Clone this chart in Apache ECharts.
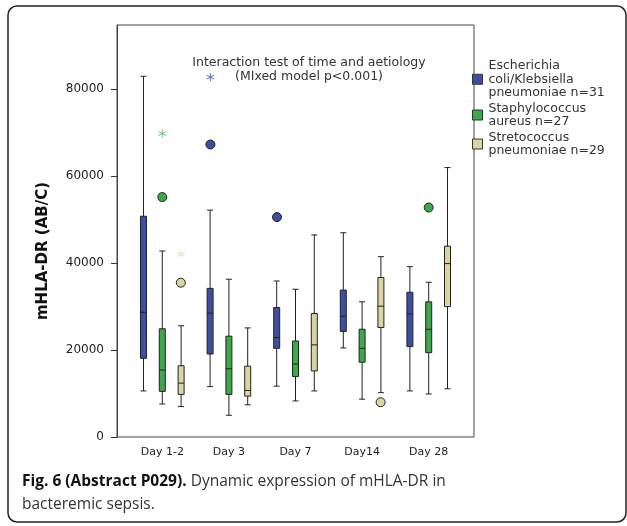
<!DOCTYPE html>
<html>
<head>
<meta charset="utf-8">
<script src="https://cdn.jsdelivr.net/npm/echarts@6/dist/echarts.min.js"></script>
<style>
html,body{margin:0;padding:0;background:#fff;}
#main{width:627px;height:526px;}
</style>
</head>
<body>
<div id="main"></div>
<script>
var days = ['Day 1-2', 'Day 3', 'Day 7', 'Day14', 'Day 28'];
var yTicks = [0, 20000, 40000, 60000, 80000];
var groupNames = [
    'Escherichia\ncoli/Klebsiella\npneumoniae n=31',
    'Staphylococcus\naureus n=27',
    'Stretococcus\npneumoniae n=29'
];
// [min, Q1, median, Q3, max] per day
var ecoliBox = [
    [10600, 18100, 28700, 50800, 83000],
    [11600, 19100, 28500, 34200, 52200],
    [11700, 20400, 22900, 29800, 35900],
    [20500, 24300, 27800, 33800, 47000],
    [10600, 20800, 28300, 33300, 39200]
];
var staphBox = [
    [7600, 10500, 15400, 24900, 42800],
    [5000, 9800, 15700, 23200, 36300],
    [8300, 13900, 16800, 22100, 34000],
    [8700, 17200, 20400, 24800, 31100],
    [9900, 19400, 24800, 31100, 35600]
];
var strepBox = [
    [7000, 9800, 12400, 16400, 25600],
    [7400, 9400, 10700, 16300, 25100],
    [10600, 15200, 21200, 28400, 46500],
    [10200, 25200, 30100, 36700, 41500],
    [11100, 30000, 39900, 43900, 62000]
];
// outliers (circles)
var ecoliOut = [['Day 3', 67300], ['Day 7', 50600]];
var staphOut = [['Day 1-2', 55200], ['Day 28', 52800]];
var strepOut = [['Day 1-2', 35500], ['Day14', 8000]];
// extremes (stars)
var ecoliExt = [['Day 3', 82800]];
var staphExt = [['Day 1-2', 69800]];
var strepExt = [['Day 1-2', 42000]];

var colors = ['#3e4fa2', '#3ba94b', '#d9d4a2'];
var starColors = ['#5a6cb8', '#5ccb6e', '#e2dfc2'];
var offsets = [-18.5, 0, 18.5];
var starPath = 'path://M-1,-10L1,-10L1,10L-1,10Z M8.16,-5.87L9.16,-4.13L-8.16,5.87L-9.16,4.13Z M-9.16,-4.13L-8.16,-5.87L9.16,4.13L8.16,5.87Z';

var font = 'DejaVu Sans';
var myChart = echarts.init(document.getElementById('main'));

var boxes = [ecoliBox, staphBox, strepBox];
var outs = [ecoliOut, staphOut, strepOut];
var exts = [ecoliExt, staphExt, strepExt];
var series = [];
var legendData = [];
for (var i = 0; i < 3; i++) {
    series.push({
        name: groupNames[i],
        type: 'boxplot',
        xAxisIndex: 1,
        yAxisIndex: 1,
        boxWidth: [6, 6],
        itemStyle: {color: colors[i], borderColor: '#222', borderWidth: 1},
        data: boxes[i]
    });
    legendData.push({name: groupNames[i], itemStyle: {color: colors[i], borderColor: '#333', borderWidth: 1}});
}
for (var i = 0; i < 3; i++) {
    series.push({
        type: 'scatter',
        xAxisIndex: 1,
        yAxisIndex: 1,
        symbol: 'circle',
        symbolSize: 9,
        symbolOffset: [offsets[i], 0],
        itemStyle: {color: colors[i], borderColor: '#222', borderWidth: 1, opacity: 1},
        data: outs[i]
    });
    series.push({
        type: 'scatter',
        xAxisIndex: 1,
        yAxisIndex: 1,
        symbol: starPath,
        symbolSize: 8,
        symbolOffset: [offsets[i], 0],
        itemStyle: {color: starColors[i], opacity: 1},
        data: exts[i]
    });
}

var option = {
    animation: false,
    backgroundColor: '#fff',
    grid: [
        // frame
        {left: 117, top: 25, width: 357, height: 412, show: true, borderColor: '#444', borderWidth: 1},
        // data
        {left: 129, top: 25, width: 333, height: 412}
    ],
    legend: {
        orient: 'vertical',
        left: 472,
        top: 59,
        padding: 0,
        itemGap: 2,
        itemWidth: 10,
        itemHeight: 10,
        icon: 'rect',
        textStyle: {fontFamily: font, fontSize: 12.5, color: '#333', lineHeight: 13.5, padding: [0, 0, 0, 1]},
        data: legendData
    },
    xAxis: [
        {gridIndex: 0, type: 'value', show: false, min: 0, max: 1},
        {
            gridIndex: 1,
            type: 'category',
            data: days,
            axisLine: {show: false},
            axisTick: {alignWithLabel: true, length: 6, lineStyle: {color: '#333'}},
            axisLabel: {fontFamily: font, fontSize: 11, color: '#222', margin: 10}
        }
    ],
    yAxis: [
        {
            gridIndex: 0,
            type: 'value',
            min: 0,
            max: 94800,
            name: 'mHLA-DR (AB/C)',
            nameLocation: 'middle',
            nameGap: 66,
            nameTextStyle: {fontFamily: font, fontSize: 15, fontWeight: 'bold', color: '#111', padding: [0, 40, 0, 0]},
            splitLine: {show: false},
            axisLine: {show: true, lineStyle: {color: '#444'}},
            axisTick: {show: true, length: 6, customValues: yTicks, lineStyle: {color: '#333'}},
            axisLabel: {
                fontFamily: font, fontSize: 12, color: '#222', margin: 13, customValues: yTicks,
                formatter: function (v) { return String(v); }
            }
        },
        {gridIndex: 1, type: 'value', min: 0, max: 94800, show: false}
    ],
    graphic: [
        {
            type: 'rect',
            shape: {x: 8, y: 6, width: 618, height: 516, r: 9},
            style: {fill: 'none', stroke: '#222', lineWidth: 1.5},
            silent: true
        },
        {
            type: 'text',
            x: 309,
            y: 56,
            style: {
                text: 'Interaction test of time and aetiology\n(MIxed model p<0.001)',
                font: '12.5px "DejaVu Sans"',
                fill: '#333',
                textAlign: 'center',
                lineHeight: 14
            }
        },
        {
            type: 'text',
            x: 22,
            y: 470,
            style: {
                text: '{b|Fig. 6 (Abstract P029).} Dynamic expression of mHLA-DR in\nbacteremic sepsis.',
                fontFamily: 'Open Sans',
                fontSize: 15.5,
                fill: '#333',
                lineHeight: 23,
                rich: {
                    b: {fontFamily: 'Open Sans', fontSize: 15.5, fontWeight: 'bold', fill: '#111', lineHeight: 23}
                }
            }
        }
    ],
    series: series
};
myChart.setOption(option);
</script>
</body>
</html>
